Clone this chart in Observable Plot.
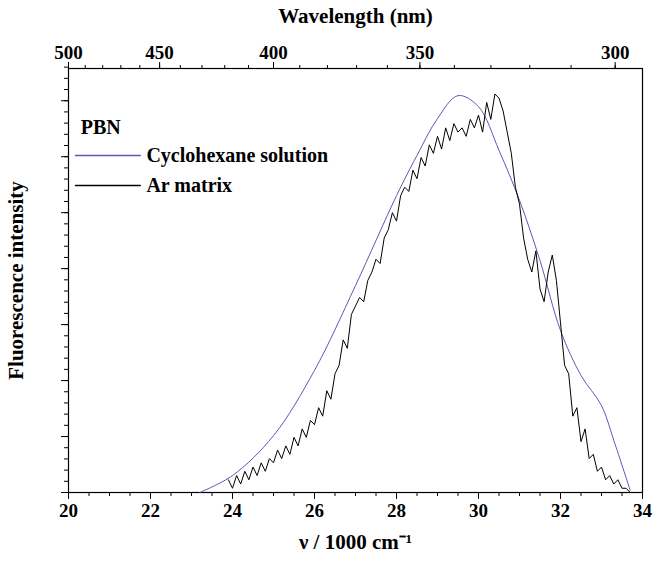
<!DOCTYPE html><html><head><meta charset="utf-8">
<script src="https://cdn.jsdelivr.net/npm/d3@7"></script>
<script src="https://cdn.jsdelivr.net/npm/@observablehq/plot@0.6"></script>
<style>body{margin:0;background:#fff} svg text{font-weight:bold;font-family:"Liberation Serif","Times New Roman",serif}</style></head><body><div id="c"></div><script>
const blueX=[23.2,24,25,26,27,28,28.5,29,29.5,30,30.5,31,31.5,32,32.5,33,33.3,33.7];
const blueY=[0,4,13.4,28.8,48.8,70,79.5,88.2,93.6,91,80.7,68.9,54.7,38.2,27.6,20.5,12.3,0.5];
const blackY=[3,1,4,2,5,3,6,4,7,5,8,7,10,8,11,9,13,11,15,13,17,16,20,18,24,22,28,30,36,34,42,44,46,45,50,52,55,54,60,62,66,64,70,72,71,76,74,79,77,82,80,84,81,86,83,87,85,86,84,88,86,89,85,92,88,94,93,90,85,80,72,68,60,55,52,57,48,45,52,56,50,40,30,28,18,20,12,15,8,9,5,6,3,4,2,3,1,1,0];
const blackX=blackY.map((_,i)=>+(23.9+i*0.1).toFixed(1));
const wlMajor=[500,450,400,350,300];
const wlMinor=d3.range(290,501,10);
const F="Liberation Serif, Times New Roman, serif";
const blue=blueX.map((x,i)=>({x,y:blueY[i]}));
const black=blackX.map((x,i)=>({x,y:blackY[i]}));
const none=()=>"";
const plot=Plot.plot({width:655,height:561,marginLeft:68,marginRight:13,marginTop:68,marginBottom:69,
 style:{fontFamily:F,fontSize:"19px",fontWeight:"bold",color:"#000"},
 x:{domain:[20,34]},y:{domain:[0,100]},
 marks:[
  Plot.frame({stroke:"#000",strokeWidth:1.2}),
  Plot.axisX({ticks:d3.range(20,35,2),tickSize:7,label:null,tickPadding:4}),
  Plot.axisX({ticks:d3.range(20,34.1,0.5),tickSize:4,tickFormat:none,label:null}),
  Plot.axisX({anchor:"top",ticks:wlMajor.map(w=>1e4/w),tickFormat:v=>Math.round(1e4/v),tickSize:7,label:null}),
  Plot.axisX({anchor:"top",ticks:wlMinor.map(w=>1e4/w).filter(v=>v<=34),tickSize:4,tickFormat:none,label:null}),
  Plot.axisY({ticks:d3.range(0,101,13.2),tickSize:7,tickFormat:none,label:null}),
  Plot.axisY({ticks:d3.range(0,101,2.64),tickSize:4,tickFormat:none,label:null}),
  Plot.line(blue,{x:"x",y:"y",curve:"catmull-rom",stroke:"#5a5ab4",strokeWidth:1}),
  Plot.line(black,{x:"x",y:"y",stroke:"#000",strokeWidth:1}),
  Plot.text(["PBN"],{x:20.3,y:86,text:d=>d,textAnchor:"start",fontSize:20}),
  Plot.line([[20.17,79.5],[21.75,79.5]],{stroke:"#5a5ab4"}),
  Plot.line([[20.17,72.4],[21.75,72.4]],{stroke:"#000"}),
  Plot.text(["Cyclohexane solution"],{x:21.9,y:79.5,text:d=>d,textAnchor:"start",fontSize:20}),
  Plot.text(["Ar matrix"],{x:21.9,y:72.4,text:d=>d,textAnchor:"start",fontSize:20}),
  Plot.text(["Wavelength (nm)"],{x:27,y:100,dy:-52,text:d=>d,fontSize:21}),
  Plot.text(["Fluorescence intensity"],{x:20,y:50,dx:-52,rotate:-90,text:d=>d,fontSize:21}),
  Plot.text(["ν / 1000 cm⁻¹"],{x:27,y:0,dy:50,text:d=>d,fontSize:21})
 ]});
document.getElementById("c").append(plot);
</script></body></html>
